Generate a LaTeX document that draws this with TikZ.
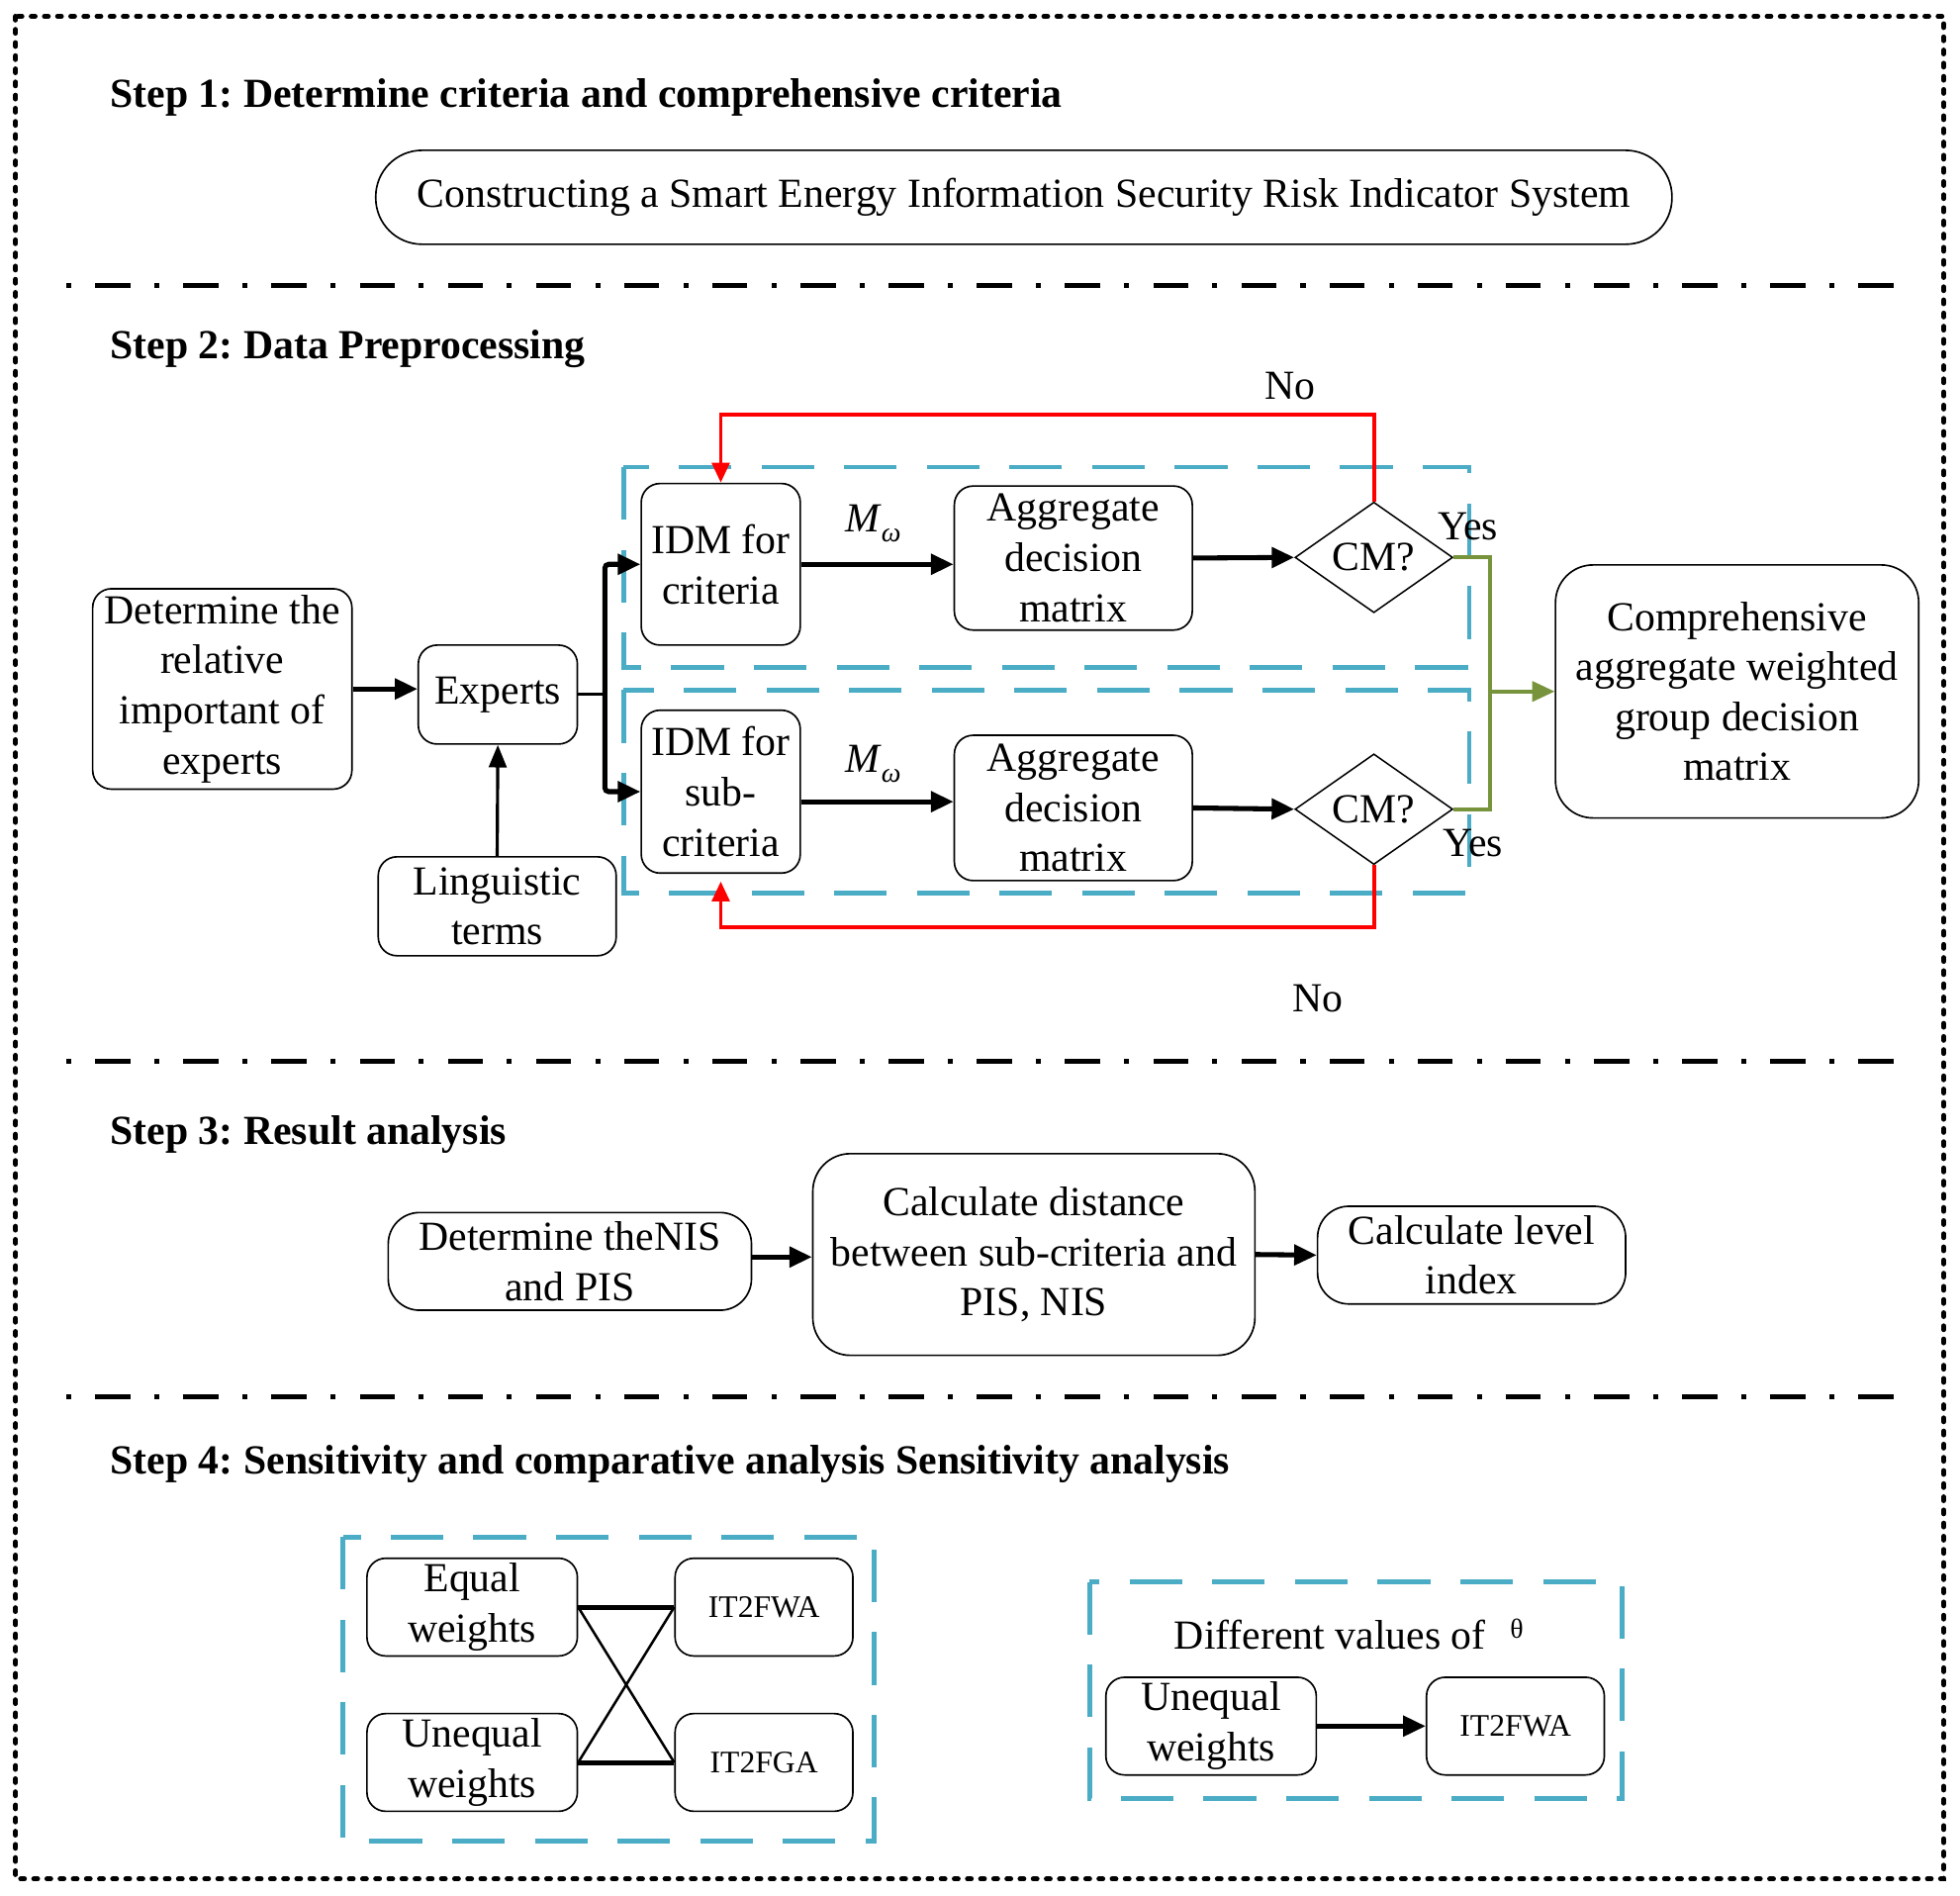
\documentclass[tikz,border=0pt]{standalone}
\usepackage{fontspec}
\setmainfont{Liberation Serif}
\usetikzlibrary{arrows.meta,shapes.geometric,calc}
\newcommand{\mfs}{\fontsize{33}{40}\selectfont}
\newcommand{\sfs}{\fontsize{25}{30}\selectfont}
\definecolor{bdcol}{RGB}{75,172,198}
\definecolor{grcol}{RGB}{119,147,60}
\frenchspacing
\begin{document}
\begin{tikzpicture}[x=1pt,y=-1pt,
  box/.style={draw, line width=1.3pt, rounded corners=15pt, align=center, inner sep=0pt, font=\mfs},
  dia/.style={draw, line width=1.2pt, diamond, inner sep=0pt, font=\mfs, minimum width=126pt, minimum height=79pt},
  lbl/.style={font=\mfs, inner sep=0pt},
  ttl/.style={font=\mfs\bfseries, inner sep=0pt, anchor=base west},
  arr/.style={line width=4pt, -{Triangle[length=18pt,width=16pt]}},
  redl/.style={draw=red, line width=3pt, -{Triangle[length=16pt,width=14pt]}},
  grl/.style={draw=grcol, line width=3pt},
  bdash/.style={draw=bdcol, line width=3.5pt, dash pattern=on 42pt off 24pt},
  sepl/.style={line width=4pt, dash pattern=on 28pt off 19.2pt on 4pt off 19.2pt},
]
\useasboundingbox (0,0) rectangle (1565,1513);
\draw[line width=4pt, line cap=round, dash pattern=on 3pt off 7.5pt] (12.5,13) rectangle (1552,1500);

% separators
\draw[sepl] (1512,228) -- (50,228);
\draw[sepl] (1512,847) -- (50,847);
\draw[sepl] (1512,1115) -- (50,1115);

% titles
\node[ttl] (t1) at (88,86) {Step 1: Determine criteria and comprehensive criteria};
\node[ttl] (t2) at (88,286) {Step 2: Data Preprocessing};
\node[ttl] (t3) at (88,914) {Step 3: Result analysis};
\node[ttl] (t4) at (88,1177) {Step 4: Sensitivity and comparative analysis Sensitivity analysis};

% step 1
\node[box, rounded corners=37pt, minimum width=1035pt, minimum height=75pt] (s1) at (817.5,157.5) {Constructing a Smart Energy Information Security Risk Indicator System};

% step 2 dashed groups
\draw[bdash] (498,373) rectangle (1173,533);
\draw[bdash] (498,551) rectangle (1173,713);

\node[box, minimum width=207pt, minimum height=160pt] (det) at (177.5,550) {Determine the\\relative\\important of\\experts};
\node[box, minimum width=127pt, minimum height=79pt] (exp) at (397.5,554.5) {Experts};
\node[box, minimum width=190pt, minimum height=79pt] (ling) at (397,723.5) {Linguistic\\terms};
\node[box, minimum width=127pt, minimum height=129pt] (idm1) at (575.5,450.5) {IDM for\\criteria};
\node[box, minimum width=127pt, minimum height=130pt] (idm2) at (575.5,632) {IDM for\\sub-\\criteria};
\node[box, minimum width=190pt, minimum height=115pt] (agg1) at (857,445.5) {Aggregate\\decision\\matrix};
\node[box, minimum width=190pt, minimum height=116pt] (agg2) at (857,645) {Aggregate\\decision\\matrix};
\node[dia] (cm1) at (1097,445) {CM?};
\node[dia] (cm2) at (1097,646) {CM?};
\node[box, rounded corners=30pt, minimum width=290pt, minimum height=202pt] (comp) at (1387,552) {Comprehensive\\aggregate weighted\\group decision\\matrix};

\node[lbl] (no1) at (1030,308) {No};
\node[lbl] (no2) at (1052,797) {No};
\node[lbl] (yes1) at (1172,420) {Yes};
\node[lbl] (yes2) at (1176,673) {Yes};
\node[lbl] (mw1) at (697,418) {\textit{M}\raisebox{-8pt}{\fontsize{22}{22}\selectfont\textit{ω}}};
\node[lbl] (mw2) at (697,610) {\textit{M}\raisebox{-8pt}{\fontsize{22}{22}\selectfont\textit{ω}}};

% connectors step 2
\draw[arr] (det.east) -- (det.east -| exp.west);
\coordinate (br) at (483,554.5);
\draw[line width=2.5pt] (exp.east) -- (br);
\draw[arr, rounded corners=3pt] (br) |- (idm1.west);
\draw[arr, rounded corners=3pt] (br) |- (idm2.west);
\draw[line width=2.5pt, -{Triangle[length=18pt,width=14pt]}] (ling.north) -- (exp.south);
\draw[arr] (idm1.east) -- (idm1.east -| agg1.west);
\coordinate (y2) at (0,640);
\draw[arr] (idm2.east |- y2) -- (agg2.west |- y2);
\draw[arr] (agg1.east) -- (cm1.west);
\draw[arr] (agg2.east) -- (cm2.west);
\coordinate (rt) at (0,331);
\coordinate (rb) at (0,740);
\draw[redl] (cm1.north) -- (cm1.north |- rt) -| (idm1.north);
\draw[redl, shorten >=6pt] (cm2.south) -- (cm2.south |- rb) -| (idm2.south);
\coordinate (gx) at (1190,0);
\coordinate (gj) at (1190,552);
\draw[grl] (cm1.east) -- (cm1.east -| gx) -- (cm2.east -| gx) -- (cm2.east);
\draw[grl, -{Triangle[length=18pt,width=16pt]}] (gj) -- (comp.west);

% step 3
\node[box, rounded corners=25pt, minimum width=290pt, minimum height=78pt] (nis) at (455,1007) {Determine theNIS\\and PIS};
\node[box, rounded corners=30pt, minimum width=353pt, minimum height=161pt] (dist) at (825.5,1001.5) {Calculate distance\\between sub-criteria and\\PIS, NIS};
\node[box, rounded corners=25pt, minimum width=246pt, minimum height=78pt] (lev) at (1175,1002) {Calculate level\\index};
\draw[arr] (nis.east |- dist.west) ++(0,2) -- ($(dist.west)+(0,2)$);
\draw[arr] (dist.east) -- (lev.west);

% step 4
\draw[bdash, line width=4pt] (274,1227) rectangle (698,1470);
\draw[bdash, line width=4pt] (870,1263) rectangle (1295,1436);
\node[box, minimum width=168pt, minimum height=78pt] (eq) at (377,1283) {Equal\\weights};
\node[box, minimum width=168pt, minimum height=78pt] (uq) at (377,1407) {Unequal\\weights};
\node[box, font=\sfs, minimum width=142pt, minimum height=78pt] (fwa1) at (610,1283) {IT2FWA};
\node[box, font=\sfs, minimum width=142pt, minimum height=78pt] (fga) at (610,1407) {IT2FGA};
\draw[line width=4pt] (eq.east) -- (fwa1.west);
\draw[line width=4pt] (uq.east) -- (fga.west);
\draw[line width=2pt] (eq.east) -- (fga.west);
\draw[line width=2pt] (uq.east) -- (fwa1.west);

\node[lbl] (diff) at (1062,1305) {Different values of};
\node[lbl, font=\fontsize{22}{22}\selectfont] (th) at (1211,1300) {θ};
\node[box, minimum width=168pt, minimum height=78pt] (uq2) at (967,1378) {Unequal\\weights};
\node[box, font=\sfs, minimum width=142pt, minimum height=78pt] (fwa2) at (1210,1378) {IT2FWA};
\draw[arr] (uq2.east) -- (fwa2.west);
\end{tikzpicture}
\end{document}
